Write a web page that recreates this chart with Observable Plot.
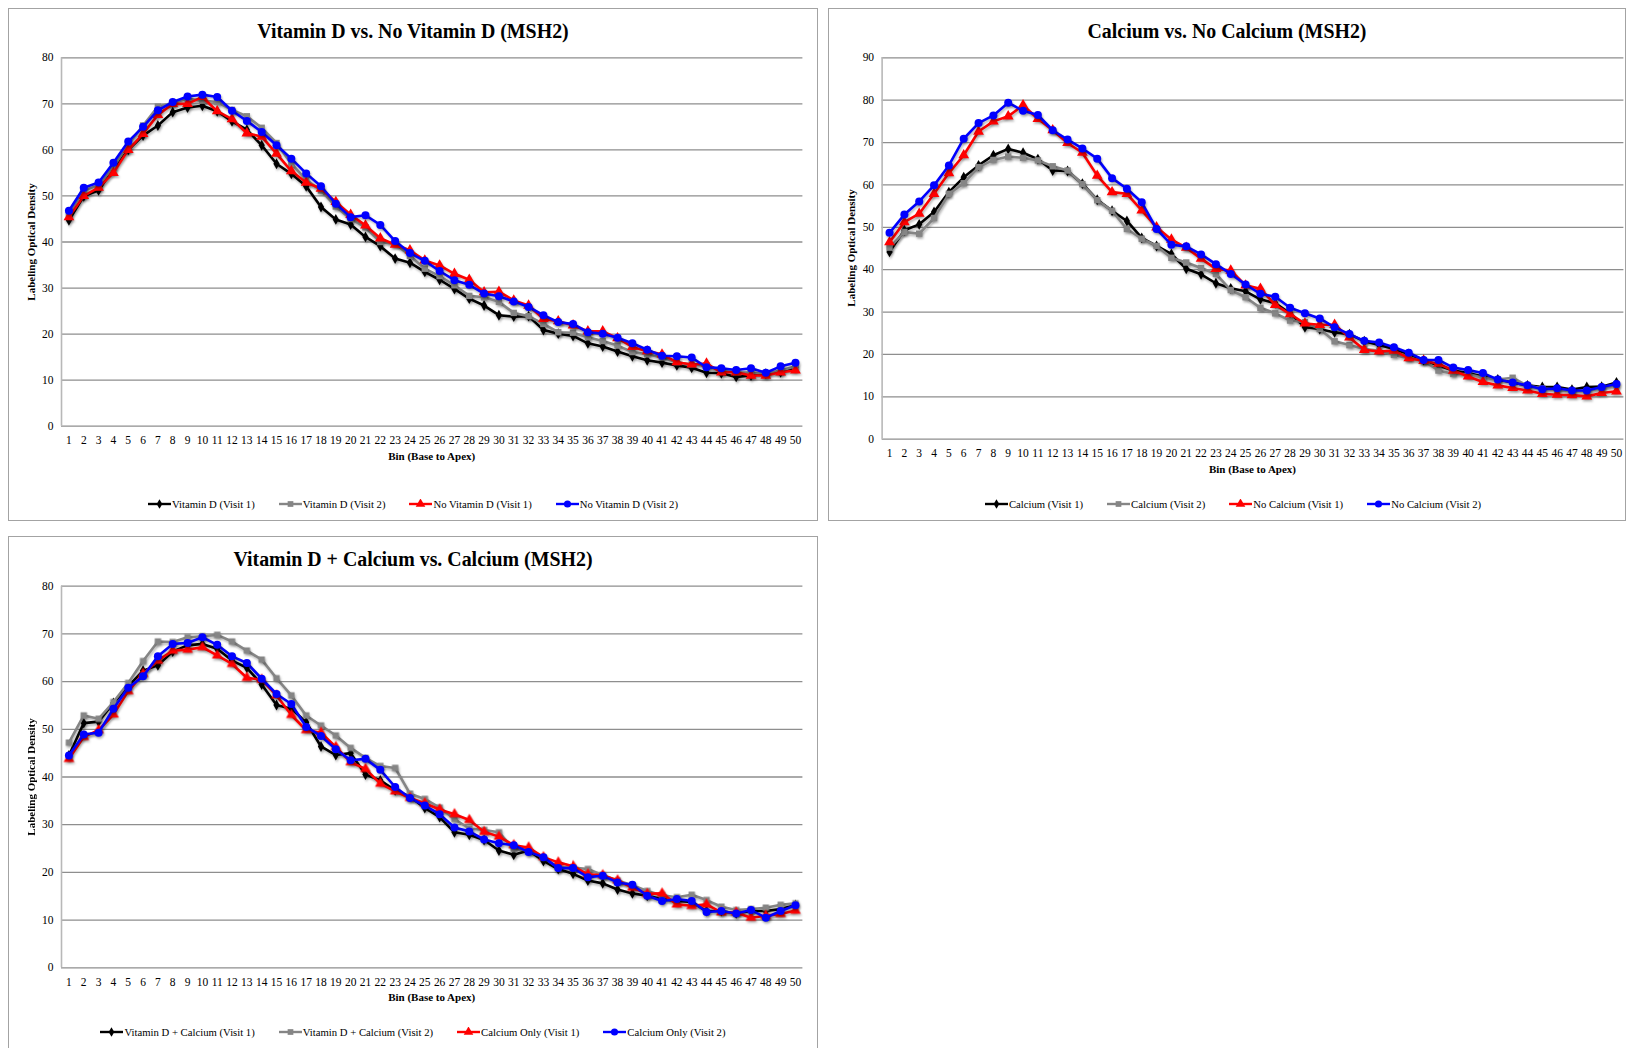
<!DOCTYPE html>
<html>
<head>
<meta charset="utf-8">
<script src="https://cdn.jsdelivr.net/npm/d3@7"></script>
<script src="https://cdn.jsdelivr.net/npm/@observablehq/plot@0.6"></script>
<style>
  html, body { margin: 0; padding: 0; background: #fff; }
  body { width: 1633px; height: 1048px; position: relative; overflow: hidden;
         font-family: "Liberation Serif", "Times New Roman", serif; color: #000; }
  .panel { position: absolute; border: 1px solid #a3a3a3; box-sizing: border-box; background: #fff; }
  .panel svg.plotsvg { position: absolute; left: 0; top: 0; }
  .ptitle { position: absolute; left: 0; right: 0; text-align: center; font-weight: bold;
            font-size: 19.9px; line-height: 20px; white-space: nowrap; }
  .xtitle { position: absolute; text-align: center; font-weight: bold; font-size: 11px; line-height: 12px; white-space: nowrap; }
  .ytitle { position: absolute; font-weight: bold; font-size: 11px; line-height: 12px; white-space: nowrap;
            transform: translate(-50%, -50%) rotate(-90deg); }
  .legend { position: absolute; left: 0; right: 0; display: flex; justify-content: center; gap: 24px;
            font-size: 10.7px; line-height: 12px; white-space: nowrap; box-sizing: border-box; }
  .legend .item { display: flex; align-items: center; }
  .legend svg { margin-right: 1px; }
</style>
</head>
<body>
<script>
// ---------------- data ----------------
const bins = [1,2,3,4,5,6,7,8,9,10,11,12,13,14,15,16,17,18,19,20,21,22,23,24,25,
              26,27,28,29,30,31,32,33,34,35,36,37,38,39,40,41,42,43,44,45,46,47,48,49,50];
const yTicks80 = [0,10,20,30,40,50,60,70,80];
const yTicks90 = [0,10,20,30,40,50,60,70,80,90];

// Panel 1: Vitamin D vs. No Vitamin D (MSH2)
const vitD_v1 = [44.7,49.9,51.2,55.9,60.0,63.1,65.3,68.2,69.2,69.6,68.4,66.2,64.4,61.0,57.0,54.8,52.1,47.6,44.9,43.8,41.1,39.1,36.4,35.5,33.5,
                 31.8,29.8,27.7,26.2,24.1,23.8,23.9,20.9,20.1,19.6,18.0,17.3,16.2,15.2,14.3,13.8,13.2,12.7,11.6,11.5,10.7,11.0,11.4,11.7,12.8];
const vitD_v2 = [46.1,51.2,52.3,56.3,61.2,65.3,69.4,70.2,71.1,70.7,70.4,68.7,67.3,64.8,61.5,57.0,53.5,51.2,47.7,45.0,43.2,40.0,39.6,37.0,34.2,
                 32.6,30.6,28.3,28.0,27.0,24.6,23.9,22.2,20.4,20.3,19.3,18.5,17.5,16.1,15.6,14.9,13.9,13.4,13.2,12.1,11.7,11.6,11.5,12.1,13.0];
const noVitD_v1 = [45.4,50.0,51.8,55.0,60.0,63.5,67.6,70.0,70.0,71.5,68.4,66.7,63.6,62.9,59.2,55.4,52.9,51.6,48.7,45.9,43.6,40.8,39.4,38.2,36.0,
                   34.9,33.1,31.8,29.1,29.2,27.3,26.2,23.3,22.8,21.9,20.6,20.6,19.1,17.2,16.3,15.6,13.9,13.4,13.6,11.7,11.7,11.0,11.0,11.7,12.1];
const noVitD_v2 = [46.8,51.8,52.9,57.2,61.8,65.0,68.6,70.4,71.6,72.0,71.5,68.5,66.3,63.9,61.0,58.1,54.9,52.1,48.3,45.4,45.8,43.7,40.2,37.6,35.9,
                   33.7,31.7,30.7,28.8,28.2,27.1,25.9,24.1,22.6,22.2,20.4,20.1,19.2,18.0,16.6,15.3,15.2,14.9,12.8,12.6,12.2,12.6,11.6,13.0,13.8];

// Panel 2: Calcium vs. No Calcium (MSH2)
const ca_v1 = [44.2,49.3,50.7,53.6,58.3,61.8,64.6,67.0,68.5,67.6,66.1,63.4,63.3,60.3,56.5,53.9,51.5,47.5,45.6,43.7,40.2,38.9,36.8,35.6,34.9,
               33.0,32.1,29.7,26.4,26.0,25.2,24.8,23.1,22.2,21.3,20.1,18.7,17.4,16.2,15.6,14.8,14.1,13.4,12.7,12.3,12.3,11.7,12.3,12.4,13.4];
const ca_v2 = [45.2,48.9,48.5,52.2,57.9,60.4,64.2,65.9,66.7,66.4,65.8,64.4,63.4,60.2,56.4,53.9,49.6,47.3,45.6,42.8,41.7,40.4,39.0,35.2,33.5,
               31.0,29.7,28.0,27.6,26.0,23.1,22.2,21.3,20.9,19.9,19.1,18.5,16.2,15.4,15.4,14.5,14.1,14.5,12.6,12.0,11.6,11.3,11.3,12.1,12.8];
const noCa_v1 = [46.5,51.2,53.2,57.9,62.8,67.0,72.6,75.0,76.2,78.8,75.6,72.9,69.9,67.6,62.2,58.3,57.9,54.0,50.0,47.1,45.2,42.6,40.2,39.8,36.3,
                 35.5,31.7,29.5,27.3,27.0,27.0,24.0,21.1,20.7,20.9,19.1,18.5,17.8,16.2,14.8,13.5,12.7,12.1,11.5,10.7,10.5,10.4,10.1,10.9,11.3];
const noCa_v2 = [48.7,53.0,56.1,59.9,64.6,70.9,74.6,76.4,79.4,77.5,76.5,72.9,70.7,68.6,66.2,61.6,59.1,55.9,49.6,45.9,45.5,43.6,41.3,39.0,36.5,
                 34.3,33.6,31.0,29.7,28.5,26.4,24.8,23.2,22.8,21.7,20.4,18.7,18.7,16.9,16.3,15.6,14.1,13.4,12.7,11.8,12.0,11.5,11.5,12.3,13.0];

// Panel 3: Vitamin D + Calcium vs. Calcium (MSH2)
const vdCa_v1 = [44.5,51.3,51.6,55.5,59.0,62.3,63.4,66.3,67.6,67.9,66.9,64.4,62.9,59.4,55.1,54.3,51.5,46.4,44.6,45.0,40.5,39.3,37.2,35.9,33.5,
                 31.6,28.4,27.9,26.8,24.6,23.7,24.6,22.4,20.7,19.7,18.3,17.7,16.4,15.6,15.1,14.4,14.0,13.8,11.9,11.9,11.4,11.9,11.9,12.3,13.2];
const vdCa_v2 = [47.2,52.9,52.2,55.7,59.7,64.3,68.4,68.3,69.3,69.5,69.8,68.4,66.5,64.6,60.7,57.1,52.9,50.8,48.7,46.1,44.0,42.3,41.9,36.5,35.4,
                 33.6,31.2,29.2,28.9,28.4,24.9,24.6,23.1,21.0,21.0,20.7,19.4,18.3,17.3,16.1,15.2,14.8,15.3,14.2,12.8,12.1,12.3,12.6,13.2,13.5];
const caOnly_v1 = [43.8,48.4,49.8,53.1,58.0,61.6,64.4,66.5,66.7,67.2,65.5,63.7,60.8,60.4,57.1,53.0,49.8,49.3,46.3,43.1,41.7,38.6,37.0,35.6,34.5,
                   33.2,32.2,31.0,28.5,27.5,25.7,25.2,23.2,22.1,21.3,19.6,19.4,18.3,16.8,15.5,15.6,13.3,13.0,13.3,11.6,11.6,10.5,10.9,11.3,12.0];
const caOnly_v2 = [44.5,48.9,49.3,54.3,58.7,61.1,65.3,67.9,68.1,69.3,67.7,65.3,63.9,60.6,57.4,55.3,50.5,48.6,45.8,43.5,43.8,41.5,37.9,35.6,34.0,
                   32.2,29.4,28.6,26.9,26.1,25.7,24.3,23.2,20.9,20.9,19.0,19.3,17.9,17.4,15.1,14.0,14.4,14.0,11.7,11.9,11.4,12.1,10.5,11.9,13.1];

// series styles
const styles = [
  {color: "#000000", symbol: "diamond", r: 3.3},
  {color: "#858585", symbol: "square", r: 3.6},
  {color: "#ff0000", symbol: "triangle", r: 4.0},
  {color: "#0000ff", symbol: "circle", r: 4.0}
];
const symbolMap = {diamond: d3.symbolDiamond, square: d3.symbolSquare, triangle: d3.symbolTriangle, circle: d3.symbolCircle};

const panels = [
  {title: "Vitamin D vs. No Vitamin D (MSH2)", left: 8, top: 8, width: 810, height: 513,
   yTicks: yTicks80, ml: 52, mr: 14.6, mt: 48.3, plotBottom: 416.7, legendShift: 0,
   names: ["Vitamin D (Visit 1)", "Vitamin D (Visit 2)", "No Vitamin D (Visit 1)", "No Vitamin D (Visit 2)"],
   values: [vitD_v1, vitD_v2, noVitD_v1, noVitD_v2]},
  {title: "Calcium vs. No Calcium (MSH2)", left: 828, top: 8, width: 798, height: 513,
   yTicks: yTicks90, ml: 52.6, mr: 1.6, mt: 48.3, plotBottom: 429.7, legendShift: 12,
   names: ["Calcium (Visit 1)", "Calcium (Visit 2)", "No Calcium (Visit 1)", "No Calcium (Visit 2)"],
   values: [ca_v1, ca_v2, noCa_v1, noCa_v2]},
  {title: "Vitamin D + Calcium vs. Calcium (MSH2)", left: 8, top: 536, width: 810, height: 513,
   yTicks: yTicks80, ml: 52, mr: 14.6, mt: 48.7, plotBottom: 430.3, legendShift: 0,
   names: ["Vitamin D + Calcium (Visit 1)", "Vitamin D + Calcium (Visit 2)", "Calcium Only (Visit 1)", "Calcium Only (Visit 2)"],
   values: [vdCa_v1, vdCa_v2, caOnly_v1, caOnly_v2]}
];

function makePanel(p) {
  const div = document.createElement("div");
  div.className = "panel";
  Object.assign(div.style, {left: p.left + "px", top: p.top + "px", width: p.width + "px", height: p.height + "px"});
  document.body.appendChild(div);

  const innerW = p.width - 2;
  const svgH = p.plotBottom + 30;
  const ymax = p.yTicks[p.yTicks.length - 1];

  const marks = [
    Plot.ruleY(p.yTicks, {stroke: "#8e8e8e", strokeWidth: 1.3}),
    Plot.ruleX([0.5], {stroke: "#b8b8b8", strokeWidth: 1.6})
  ];
  p.values.forEach((vals, k) => {
    const st = styles[k];
    const d = vals.map((v, i) => ({bin: bins[i], value: v}));
    marks.push(Plot.line(d, {x: "bin", y: "value", stroke: st.color, strokeWidth: 2.6, strokeLinejoin: "round"}));
    marks.push(Plot.dot(d, {x: "bin", y: "value", fill: st.color, stroke: "none", symbol: st.symbol, r: st.r}));
  });

  const svg = Plot.plot({
    width: innerW,
    height: svgH,
    marginLeft: p.ml,
    marginRight: p.mr,
    marginTop: p.mt,
    marginBottom: svgH - p.plotBottom,
    style: {fontFamily: "'Liberation Serif', 'Times New Roman', serif", fontSize: "11.5px", color: "#000", background: "transparent", overflow: "visible"},
    x: {domain: [0.5, 50.5], ticks: bins, tickFormat: d => String(d), tickSize: 0, tickPadding: 10, label: null},
    y: {domain: [0, ymax], ticks: p.yTicks, tickFormat: d => String(d), tickSize: 0, tickPadding: 8, label: null},
    marks
  });
  svg.classList.add("plotsvg");
  div.appendChild(svg);
  d3.select(svg).selectAll('g[aria-label="line"], g[aria-label="dot"]')
    .style("filter", "drop-shadow(1px 2px 1.2px rgba(0,0,0,0.28))");

  // title
  const t = document.createElement("div");
  t.className = "ptitle";
  t.style.top = (22 - 10) + "px";
  t.textContent = p.title;
  div.appendChild(t);

  // x title
  const xt = document.createElement("div");
  xt.className = "xtitle";
  xt.style.left = p.ml + "px";
  xt.style.width = (innerW - p.ml - p.mr) + "px";
  xt.style.top = (p.plotBottom + 30 - 6) + "px";
  xt.textContent = "Bin (Base to Apex)";
  div.appendChild(xt);

  // y title
  const yt = document.createElement("div");
  yt.className = "ytitle";
  yt.style.left = "22px";
  yt.style.top = ((p.mt + p.plotBottom) / 2) + "px";
  yt.textContent = "Labeling Optical Density";
  div.appendChild(yt);

  // legend
  const lg = document.createElement("div");
  lg.className = "legend";
  lg.style.top = (495 - 6) + "px";
  lg.style.paddingLeft = p.legendShift + "px";
  p.names.forEach((name, k) => {
    const st = styles[k];
    const item = document.createElement("span");
    item.className = "item";
    const size = Math.PI * st.r * st.r * 0.8;
    const path = d3.symbol(symbolMap[st.symbol], size)();
    item.innerHTML = `<svg width="23" height="10"><line x1="0" y1="5" x2="23" y2="5" stroke="${st.color}" stroke-width="2.4"/>` +
      `<path d="${path}" transform="translate(11.5,5)" fill="${st.color}"/></svg><span>${name}</span>`;
    lg.appendChild(item);
  });
  div.appendChild(lg);
}

panels.forEach(makePanel);
</script>
</body>
</html>
